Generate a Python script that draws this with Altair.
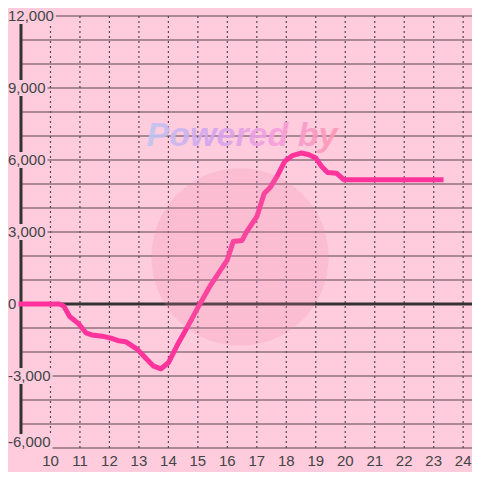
import altair as alt
import pandas as pd

# ---- data ----
hours = [9.0, 10.3, 10.45, 10.65, 10.95, 11.2, 11.4, 11.75, 12.05, 12.3, 12.55,
         12.95, 13.25, 13.5, 13.75, 14.0, 14.35, 14.65, 15.0, 15.4, 16.0, 16.2,
         16.5, 16.65, 17.0, 17.25, 17.45, 17.7, 17.95, 18.2, 18.5, 18.75, 19.0,
         19.2, 19.4, 19.7, 19.95, 23.25]
values = [0, 0, -80, -520, -820, -1200, -1290, -1340, -1420, -1530, -1570,
          -1890, -2280, -2590, -2700, -2450, -1600, -950, -150, 720, 1840, 2600,
          2650, 3000, 3640, 4600, 4850, 5350, 5950, 6180, 6290, 6230, 6080,
          5730, 5480, 5450, 5180, 5180]
y_grid = list(range(-6000, 12001, 1000))
y_label_values = [-6000, -3000, 0, 3000, 6000, 9000, 12000]
x_tick_values = list(range(10, 25))
watermark_text = "Powered by"

# ---- layout ----
PAD_L, PAD_T, PAD_B = 13, 8, 24
W, H = 464 - PAD_L, 432
BG = "#ffccdd"
X0, X1 = 9.0, 24.3
Y0, Y1 = -6000, 12000
px_per_hour = W / (X1 - X0)
units_per_px = (Y1 - Y0) / H

x_scale = alt.Scale(domain=[X0, X1], nice=False, zero=False)
y_scale = alt.Scale(domain=[Y0, Y1], nice=False, zero=False)

line_df = pd.DataFrame({"t": hours, "v": values})
grid_df = pd.DataFrame({"v": y_grid})
xt_df = pd.DataFrame({"t": x_tick_values, "lab": [str(h) for h in x_tick_values]})


def text_w(s):
    return sum(8.34 if c.isdigit() else 4.17 if c == "," else 5.0 for c in s)


labs = [f"{v:,}" for v in y_label_values]
lab_df = pd.DataFrame({"v": y_label_values, "lab": labs})
# label centre (bottom label is nudged up so it stays above the frame)
lab_df["vc"] = lab_df["v"].clip(lower=Y0 + 250)
lab_df["lo"] = lab_df["vc"] - 8 * units_per_px
lab_df["hi"] = lab_df["vc"] + 8 * units_per_px
left_t = X0 - PAD_L / px_per_hour
lab_df["x0"] = left_t
lab_df["xe"] = [left_t + (text_w(s) + 2) / px_per_hour for s in labs]

GRID = "#574652"

hgrid = alt.Chart(grid_df).mark_rule(color=GRID, strokeWidth=1.2).encode(
    y=alt.Y("v:Q", scale=y_scale, axis=None),
    x=alt.value(0), x2=alt.value(W),
)
vgrid = alt.Chart(xt_df).mark_rule(color=GRID, strokeWidth=1.2, strokeDash=[2, 3]).encode(
    x=alt.X("t:Q", scale=x_scale, axis=None),
    y=alt.value(0), y2=alt.value(H),
)
vaxis = alt.Chart(pd.DataFrame({"t": [X0]})).mark_rule(color="#333333", strokeWidth=3).encode(
    x=alt.X("t:Q", scale=x_scale, axis=None),
    y=alt.value(0), y2=alt.value(H),
)
zero = alt.Chart(pd.DataFrame({"v": [0]})).mark_rule(color="#333333", strokeWidth=3).encode(
    y=alt.Y("v:Q", scale=y_scale, axis=None),
    x=alt.value(0), x2=alt.value(W),
)
boxes = alt.Chart(lab_df).mark_rect(color=BG).encode(
    x=alt.X("x0:Q", scale=x_scale, axis=None), x2="xe:Q",
    y=alt.Y("lo:Q", scale=y_scale, axis=None), y2="hi:Q",
)
ylabels = alt.Chart(lab_df).mark_text(
    align="left", baseline="middle", font="Liberation Sans", fontSize=15, color="#444444"
).encode(
    x=alt.X("x0:Q", scale=x_scale, axis=None),
    y=alt.Y("vc:Q", scale=y_scale, axis=None),
    text="lab:N",
)
xlabels = alt.Chart(xt_df).mark_text(
    align="center", baseline="middle", font="Liberation Sans", fontSize=15, color="#444444"
).encode(
    x=alt.X("t:Q", scale=x_scale, axis=None),
    y=alt.value(H + 13),
    text="lab:N",
)
line = alt.Chart(line_df).mark_line(
    color="#ff339c", strokeWidth=5, strokeCap="square", strokeJoin="round"
).encode(
    x=alt.X("t:Q", scale=x_scale, axis=None),
    y=alt.Y("v:Q", scale=y_scale, axis=None),
)
wm_circle = alt.Chart(pd.DataFrame({"k": [0]})).mark_point(
    shape="circle", filled=True, size=31400, color="#e68aae", opacity=0.22, strokeWidth=0
).encode(x=alt.value(219), y=alt.value(241))
wm_text = alt.Chart(pd.DataFrame({"txt": [watermark_text]})).mark_text(
    align="center", baseline="alphabetic", font="Liberation Sans", fontSize=34,
    fontWeight="bold", fontStyle="italic", opacity=0.9,
    fill=alt.Gradient(
        gradient="linear", x1=0, x2=1, y1=0, y2=0,
        stops=[
            alt.GradientStop(color="#c0c6f2", offset=0),
            alt.GradientStop(color="#d4a4ee", offset=0.35),
            alt.GradientStop(color="#f49ee0", offset=0.65),
            alt.GradientStop(color="#ff97b0", offset=1),
        ],
    ),
).encode(x=alt.value(221), y=alt.value(130), text="txt:N")

chart = alt.layer(
    hgrid, vgrid, vaxis, zero, boxes, ylabels, xlabels, line, wm_circle, wm_text
).properties(
    width=W, height=H,
    padding={"left": PAD_L, "top": PAD_T, "right": 0, "bottom": PAD_B},
    autosize=alt.AutoSizeParams(type="none"),
    background=BG,
).configure_view(strokeWidth=0)

chart.save("out.html", embed_options={"renderer": "svg", "actions": False})
